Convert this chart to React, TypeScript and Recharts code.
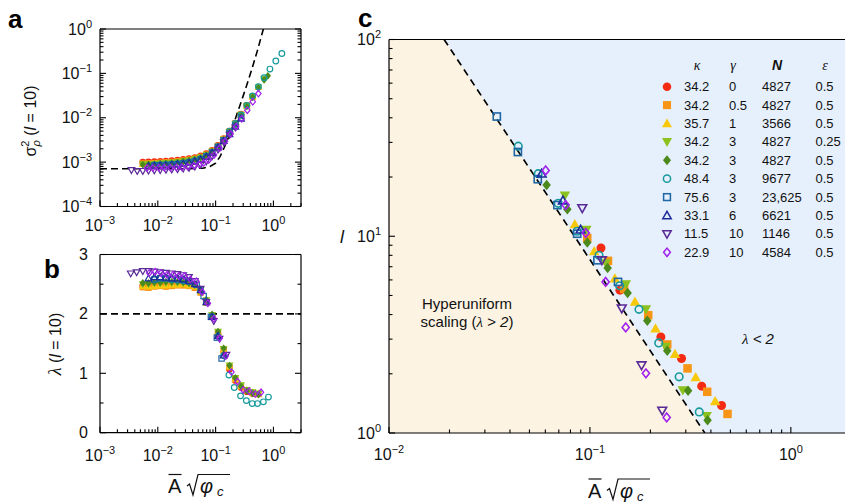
import React from "react";
import { Area, ComposedChart, Line, ReferenceLine, Scatter, XAxis, YAxis } from "recharts";

const W = 845;
const H = 502;
const SANS = "'Liberation Sans', Arial, Helvetica, sans-serif";
const SERIF = "'Liberation Serif', 'DejaVu Serif', serif";

type Pt = [number, number];

// ---- legend table (panel c) ----
const kappa = ["34.2", "34.2", "35.7", "34.2", "34.2", "48.4", "75.6", "33.1", "11.5", "22.9"];
const gamma = ["0", "0.5", "1", "3", "3", "3", "3", "6", "10", "10"];
const nValues = ["4827", "4827", "3566", "4827", "4827", "9677", "23,625", "6621", "1146", "4584"];
const epsilon = ["0.5", "0.5", "0.5", "0.25", "0.5", "0.5", "0.5", "0.5", "0.5", "0.5"];

type Kind = "circle" | "square" | "up" | "down" | "diamond";
const markerKind: Kind[] = ["circle", "square", "up", "down", "diamond", "circle", "square", "up", "down", "diamond"];
const markerColor = ["#f42a12", "#f99516", "#f7c80d", "#8cc21f", "#4b8a1b", "#169a9c", "#1f66a4", "#1b2c99", "#5a2a96", "#a020ee"];
const markerFilled = [true, true, true, true, true, false, false, false, false, false];

// ---- panel a: sigma^2 (l = 10) vs A sqrt(phi_c) ----
const sigmaRed: Pt[] = [[0.0055, 1.0e-3], [0.0069, 1.01e-3], [0.0087, 1.02e-3], [0.011, 1.04e-3], [0.0138, 1.06e-3], [0.0174, 1.08e-3], [0.0219, 1.11e-3], [0.0275, 1.15e-3], [0.0347, 1.2e-3], [0.0437, 1.27e-3], [0.055, 1.38e-3], [0.069, 1.55e-3], [0.087, 1.85e-3], [0.11, 2.4e-3], [0.138, 3.4e-3], [0.174, 5.0e-3], [0.219, 7.6e-3], [0.275, 0.012], [0.347, 0.019]];
const sigmaOrange: Pt[] = [[0.0055, 9.3e-4], [0.0069, 9.4e-4], [0.0087, 9.5e-4], [0.011, 9.7e-4], [0.0138, 9.9e-4], [0.0174, 1.01e-3], [0.0219, 1.04e-3], [0.0275, 1.08e-3], [0.0347, 1.13e-3], [0.0437, 1.2e-3], [0.055, 1.31e-3], [0.069, 1.48e-3], [0.087, 1.78e-3], [0.11, 2.3e-3], [0.138, 3.3e-3], [0.174, 4.9e-3], [0.219, 7.4e-3], [0.275, 0.0118], [0.347, 0.0188], [0.437, 0.03]];
const sigmaYellow: Pt[] = [[0.0055, 9.1e-4], [0.0069, 9.2e-4], [0.0087, 9.3e-4], [0.011, 9.5e-4], [0.0138, 9.7e-4], [0.0174, 9.9e-4], [0.0219, 1.02e-3], [0.0275, 1.06e-3], [0.0347, 1.11e-3], [0.0437, 1.18e-3], [0.055, 1.29e-3], [0.069, 1.46e-3], [0.087, 1.76e-3], [0.11, 2.3e-3], [0.138, 3.3e-3], [0.174, 4.8e-3], [0.219, 7.3e-3], [0.275, 0.0116], [0.347, 0.0185], [0.437, 0.03], [0.55, 0.049]];
const sigmaLime: Pt[] = [[0.0055, 8.9e-4], [0.0069, 9.0e-4], [0.0087, 9.1e-4], [0.011, 9.3e-4], [0.0138, 9.5e-4], [0.0174, 9.7e-4], [0.0219, 1.0e-3], [0.0275, 1.04e-3], [0.0347, 1.09e-3], [0.0437, 1.16e-3], [0.055, 1.27e-3], [0.069, 1.44e-3], [0.087, 1.74e-3], [0.11, 2.25e-3], [0.138, 3.2e-3], [0.174, 4.7e-3], [0.219, 7.2e-3], [0.275, 0.0115], [0.347, 0.0183], [0.437, 0.0295], [0.55, 0.048], [0.69, 0.074]];
const sigmaGreen: Pt[] = [[0.0055, 8.8e-4], [0.0069, 8.9e-4], [0.0087, 9.0e-4], [0.011, 9.2e-4], [0.0138, 9.4e-4], [0.0174, 9.6e-4], [0.0219, 9.9e-4], [0.0275, 1.03e-3], [0.0347, 1.08e-3], [0.0437, 1.15e-3], [0.055, 1.26e-3], [0.069, 1.43e-3], [0.087, 1.72e-3], [0.11, 2.2e-3], [0.138, 3.2e-3], [0.174, 4.7e-3], [0.219, 7.1e-3], [0.275, 0.0114], [0.347, 0.018], [0.437, 0.029], [0.55, 0.047], [0.69, 0.072], [0.8, 0.088]];
const sigmaTeal: Pt[] = [[0.0087, 8.6e-4], [0.011, 8.7e-4], [0.0138, 8.8e-4], [0.0174, 9.0e-4], [0.0219, 9.2e-4], [0.0275, 9.5e-4], [0.0347, 1.0e-3], [0.0437, 1.07e-3], [0.055, 1.18e-3], [0.069, 1.36e-3], [0.087, 1.65e-3], [0.11, 2.2e-3], [0.138, 3.1e-3], [0.174, 5.0e-3], [0.219, 7.4e-3], [0.275, 0.0115], [0.347, 0.019], [0.437, 0.031], [0.55, 0.05], [0.69, 0.08], [0.87, 0.125], [1.1, 0.19], [1.4, 0.28]];
const sigmaBlue: Pt[] = [[0.0087, 8.4e-4], [0.011, 8.5e-4], [0.0138, 8.6e-4], [0.0174, 8.8e-4], [0.0219, 9.0e-4], [0.0275, 9.3e-4], [0.0347, 9.8e-4], [0.0437, 1.05e-3], [0.055, 1.16e-3], [0.069, 1.34e-3], [0.087, 1.65e-3], [0.11, 2.2e-3], [0.138, 3.1e-3], [0.174, 4.5e-3], [0.219, 6.6e-3], [0.275, 0.01]];
const sigmaNavy: Pt[] = [[0.0069, 8.2e-4], [0.0087, 8.3e-4], [0.011, 8.4e-4], [0.0138, 8.5e-4], [0.0174, 8.7e-4], [0.0219, 8.9e-4], [0.0275, 9.2e-4], [0.0347, 9.7e-4], [0.0437, 1.04e-3], [0.055, 1.15e-3], [0.069, 1.32e-3], [0.087, 1.62e-3], [0.11, 2.15e-3], [0.138, 3.0e-3], [0.174, 4.3e-3], [0.219, 6.3e-3], [0.275, 9.5e-3]];
const sigmaPurple: Pt[] = [[0.0035, 6.6e-4], [0.0044, 6.3e-4], [0.0055, 6.3e-4], [0.0069, 6.4e-4], [0.0087, 6.5e-4], [0.011, 6.6e-4], [0.0138, 6.7e-4], [0.0174, 6.8e-4], [0.0219, 6.9e-4], [0.0275, 7.1e-4], [0.0347, 7.4e-4], [0.0437, 7.9e-4], [0.055, 8.7e-4], [0.069, 1.02e-3], [0.087, 1.35e-3], [0.11, 1.9e-3], [0.138, 2.8e-3], [0.174, 4.1e-3], [0.219, 6.0e-3]];
const sigmaViolet: Pt[] = [[0.0065, 7.4e-4], [0.0082, 7.4e-4], [0.0104, 7.5e-4], [0.013, 7.5e-4], [0.0165, 7.5e-4], [0.021, 7.6e-4], [0.026, 7.7e-4], [0.033, 7.9e-4], [0.042, 8.3e-4], [0.052, 8.8e-4], [0.062, 9.5e-4], [0.076, 1.12e-3], [0.094, 1.45e-3], [0.117, 2.05e-3], [0.146, 2.95e-3], [0.182, 4.3e-3], [0.227, 6.3e-3], [0.283, 9.5e-3], [0.353, 0.0148], [0.44, 0.023], [0.55, 0.035]];
const sigmaFit: Pt[] = [[0.001, 7.1e-4], [0.03, 7.1e-4], [0.06, 7.3e-4], [0.08, 8.0e-4], [0.1, 9.5e-4], [0.12, 1.35e-3], [0.14, 2.1e-3], [0.17, 3.8e-3], [0.21, 8.0e-3], [0.26, 0.018], [0.33, 0.045], [0.42, 0.12], [0.53, 0.33], [0.67, 1.0]];

// ---- panel b: lambda (l = 10) ----
const lambdaRed: Pt[] = [[0.0055, 2.47], [0.0069, 2.46], [0.0087, 2.48], [0.011, 2.49], [0.0138, 2.47], [0.0174, 2.48], [0.0219, 2.5], [0.0275, 2.49], [0.0347, 2.48], [0.0437, 2.45], [0.055, 2.37], [0.069, 2.2], [0.087, 1.96], [0.11, 1.66], [0.138, 1.36], [0.174, 1.07], [0.219, 0.88], [0.275, 0.76], [0.347, 0.69], [0.437, 0.66]];
const lambdaOrange: Pt[] = [[0.0055, 2.45], [0.0069, 2.44], [0.0087, 2.46], [0.011, 2.47], [0.0138, 2.46], [0.0174, 2.47], [0.0219, 2.48], [0.0275, 2.48], [0.0347, 2.47], [0.0437, 2.44], [0.055, 2.36], [0.069, 2.19], [0.087, 1.95], [0.11, 1.67], [0.138, 1.39], [0.174, 1.1], [0.219, 0.9], [0.275, 0.78], [0.347, 0.71], [0.437, 0.67], [0.55, 0.65]];
const lambdaYellow: Pt[] = [[0.0055, 2.47], [0.0069, 2.46], [0.0087, 2.47], [0.011, 2.48], [0.0138, 2.48], [0.0174, 2.49], [0.0219, 2.49], [0.0275, 2.5], [0.0347, 2.48], [0.0437, 2.46], [0.055, 2.38], [0.069, 2.21], [0.087, 1.97], [0.11, 1.69], [0.138, 1.4], [0.174, 1.12], [0.219, 0.91], [0.275, 0.79], [0.347, 0.72], [0.437, 0.68], [0.55, 0.66]];
const lambdaLime: Pt[] = [[0.0055, 2.5], [0.0069, 2.5], [0.0087, 2.51], [0.011, 2.51], [0.0138, 2.52], [0.0174, 2.52], [0.0219, 2.52], [0.0275, 2.52], [0.0347, 2.51], [0.0437, 2.48], [0.055, 2.4], [0.069, 2.23], [0.087, 1.98], [0.11, 1.7], [0.138, 1.41], [0.174, 1.13], [0.219, 0.92], [0.275, 0.8], [0.347, 0.72], [0.437, 0.68], [0.55, 0.66]];
const lambdaGreen: Pt[] = [[0.0055, 2.52], [0.0069, 2.52], [0.0087, 2.53], [0.011, 2.53], [0.0138, 2.54], [0.0174, 2.54], [0.0219, 2.54], [0.0275, 2.53], [0.0347, 2.52], [0.0437, 2.49], [0.055, 2.41], [0.069, 2.24], [0.087, 1.99], [0.11, 1.7], [0.138, 1.42], [0.174, 1.13], [0.219, 0.92], [0.275, 0.78], [0.347, 0.7], [0.437, 0.66], [0.55, 0.64]];
const lambdaTeal: Pt[] = [[0.0087, 2.58], [0.011, 2.6], [0.0138, 2.6], [0.0174, 2.58], [0.0219, 2.57], [0.0275, 2.56], [0.0347, 2.55], [0.0437, 2.5], [0.055, 2.4], [0.069, 2.2], [0.087, 1.95], [0.11, 1.62], [0.138, 1.3], [0.17, 0.97], [0.21, 0.76], [0.27, 0.62], [0.34, 0.54], [0.43, 0.49], [0.53, 0.49], [0.67, 0.52], [0.82, 0.6]];
const lambdaBlue: Pt[] = [[0.0087, 2.58], [0.011, 2.6], [0.0138, 2.6], [0.0174, 2.59], [0.0219, 2.58], [0.0275, 2.57], [0.0347, 2.55], [0.047, 2.49], [0.062, 2.3], [0.083, 1.95], [0.105, 1.6], [0.127, 1.25]];
const lambdaNavy: Pt[] = [[0.0069, 2.6], [0.0087, 2.62], [0.011, 2.62], [0.0138, 2.61], [0.0174, 2.6], [0.0219, 2.6], [0.0275, 2.58], [0.0347, 2.55], [0.0437, 2.5], [0.055, 2.4], [0.069, 2.2], [0.087, 1.95], [0.11, 1.63], [0.138, 1.3]];
const lambdaPurple: Pt[] = [[0.0034, 2.68], [0.0043, 2.7], [0.0055, 2.72], [0.0069, 2.72], [0.0087, 2.71], [0.011, 2.7], [0.0138, 2.69], [0.0174, 2.68], [0.0219, 2.67], [0.0275, 2.65], [0.0347, 2.62], [0.0437, 2.55], [0.055, 2.42], [0.069, 2.2], [0.093, 1.88], [0.117, 1.58], [0.154, 1.31]];
const lambdaViolet: Pt[] = [[0.0071, 2.69], [0.009, 2.71], [0.0114, 2.69], [0.0144, 2.66], [0.0183, 2.66], [0.023, 2.64], [0.029, 2.64], [0.0366, 2.58], [0.0467, 2.55], [0.0586, 2.37], [0.0735, 2.18], [0.0934, 1.92], [0.1175, 1.59], [0.1496, 1.29], [0.188, 1.02], [0.239, 0.86], [0.3, 0.72], [0.38, 0.7], [0.485, 0.65], [0.61, 0.68]];
const lambdaCritical = 2;

// ---- panel c: l vs A sqrt(phi_c) at lambda = 2 ----
const lRed: Pt[] = [[0.1135, 8.72], [0.141, 5.32], [0.2255, 3.08], [0.2857, 2.39], [0.36, 1.73], [0.452, 1.38]];
const lOrange: Pt[] = [[0.097, 9.8], [0.123, 7.5], [0.148, 5.4], [0.195, 3.97], [0.2426, 2.82], [0.306, 2.13], [0.3835, 1.62], [0.484, 1.25]];
const lYellow: Pt[] = [[0.0841, 11.5], [0.105, 8.4], [0.133, 6.1], [0.1675, 4.64], [0.212, 3.4], [0.265, 2.52], [0.336, 1.92], [0.42, 1.45]];
const lLime: Pt[] = [[0.0751, 16.1], [0.096, 10.8], [0.12, 7.3], [0.151, 5.7], [0.19, 4.25], [0.238, 2.74], [0.29, 1.65], [0.381, 1.22]];
const lGreen: Pt[] = [[0.0609, 18.2], [0.0772, 13.7], [0.097, 9.3], [0.1225, 6.9], [0.154, 5.14], [0.193, 3.72], [0.2426, 2.62], [0.308, 1.64], [0.385, 1.16]];
const lTeal: Pt[] = [[0.044, 28.7], [0.0553, 20.8], [0.0695, 14.7], [0.0864, 10.6], [0.111, 8.0], [0.1405, 5.6], [0.1754, 4.25], [0.22, 2.87], [0.278, 1.93], [0.35, 1.28]];
const lBlue: Pt[] = [[0.0344, 40.6], [0.0438, 26.8], [0.055, 19.5], [0.0689, 14.4], [0.0864, 10.3], [0.109, 7.55], [0.138, 5.86]];
const lNavy: Pt[] = [[0.0575, 20.8], [0.0734, 15.2], [0.0898, 10.8]];
const lPurple: Pt[] = [[0.0916, 13.9], [0.1147, 7.55], [0.144, 4.3], [0.1807, 2.21], [0.229, 1.3]];
const lViolet: Pt[] = [[0.0602, 21.6], [0.0757, 14.4], [0.0953, 10.4], [0.1197, 5.86], [0.1507, 3.44], [0.19, 2.01], [0.241, 1.2]];
const lBoundary: Pt[] = [[0.0188, 100], [0.373, 1]];
const regionAll: Pt[] = [[0.01, 100], [1.86, 100]];
const regionHyper: Pt[] = [[0.01, 100], [0.0188, 100], [0.373, 1]];

const sigmaSeries = [sigmaRed, sigmaOrange, sigmaYellow, sigmaLime, sigmaGreen, sigmaTeal, sigmaBlue, sigmaNavy, sigmaPurple, sigmaViolet];
const lambdaSeries = [lambdaRed, lambdaOrange, lambdaYellow, lambdaLime, lambdaGreen, lambdaTeal, lambdaBlue, lambdaNavy, lambdaPurple, lambdaViolet];
const lSeries = [lRed, lOrange, lYellow, lLime, lGreen, lTeal, lBlue, lNavy, lPurple, lViolet];

// axes
const abXDomain = [0.001, 3];
const sigmaDomain = [1e-4, 1];
const lambdaDomain = [0, 3];
const cXDomain = [0.01, 1.86];
const cYDomain = [1, 100];
const abDecades = [0.001, 0.01, 0.1, 1];
const sigmaDecades = [1e-4, 1e-3, 1e-2, 1e-1, 1];
const lambdaTicks = [0, 0.5, 1, 1.5, 2, 2.5, 3];
const cXDecades = [0.01, 0.1, 1];
const cYDecades = [1, 10, 100];

const BLUE_BG = "#e6f0fc";
const BEIGE_BG = "#fdf3e2";

function withMinor(decades: number[], lo: number, hi: number) {
  const out: number[] = [];
  decades.forEach((d) => {
    for (let m = 1; m <= 9; m++) {
      const v = +(d * m).toPrecision(6);
      if (v >= lo * 0.999999 && v <= hi * 1.000001) out.push(v);
    }
  });
  return out;
}

const abXTicks = withMinor(abDecades, abXDomain[0], abXDomain[1]);
const sigmaTicks = withMinor(sigmaDecades, sigmaDomain[0], sigmaDomain[1]);
const cXTicks = withMinor(cXDecades, cXDomain[0], cXDomain[1]);
const cYTicks = withMinor(cYDecades, cYDomain[0], cYDomain[1]);

const toXY = (a: Pt[]) => a.map(([x, y]) => ({ x, y }));

const isDecade = (v: number) => Math.abs(Math.log10(v) - Math.round(Math.log10(v))) < 1e-6;
const expText = (v: number) => {
  const e = Math.round(Math.log10(v));
  return e < 0 ? `\u2212${-e}` : `${e}`;
};

function Marker({ cx, cy, idx, size }: { cx: number; cy: number; idx: number; size: number }) {
  if (cx == null || cy == null || isNaN(cx) || isNaN(cy)) return null;
  const color = markerColor[idx];
  const filled = markerFilled[idx];
  const sw = filled ? 0 : Math.max(1.2, size * 0.16);
  const r = filled ? size / 2 : size / 2 - sw / 2;
  const st = { fill: filled ? color : "none", stroke: filled ? "none" : color, strokeWidth: sw };
  switch (markerKind[idx]) {
    case "circle":
      return <circle cx={cx} cy={cy} r={r * 0.9} {...st} />;
    case "square": {
      const s = r * 0.85;
      return <rect x={cx - s} y={cy - s} width={2 * s} height={2 * s} {...st} />;
    }
    case "up":
      return <polygon points={`${cx},${cy - r * 1.05} ${cx + r * 1.05},${cy + r * 0.8} ${cx - r * 1.05},${cy + r * 0.8}`} {...st} />;
    case "down":
      return <polygon points={`${cx},${cy + r * 1.05} ${cx + r * 1.05},${cy - r * 0.8} ${cx - r * 1.05},${cy - r * 0.8}`} {...st} />;
    default:
      return <polygon points={`${cx},${cy - r * 1.05} ${cx + r * 0.85},${cy} ${cx},${cy + r * 1.05} ${cx - r * 0.85},${cy}`} {...st} />;
  }
}

function AxisTick(props: any) {
  const { x, y, payload, side, log, showLabel, gap } = props;
  const v = Number(payload.value);
  const major = log ? isDecade(v) : Number.isInteger(v);
  const len = major ? 6 : 3.5;
  const d = side === "bottom" ? [0, -1] : side === "top" ? [0, 1] : side === "left" ? [1, 0] : [-1, 0];
  const content = log ? (
    <>
      10
      <tspan dy={-7} fontSize={11}>
        {expText(v)}
      </tspan>
    </>
  ) : (
    String(v)
  );
  return (
    <g>
      <line x1={x} y1={y} x2={x + d[0] * len} y2={y + d[1] * len} stroke="#000" strokeWidth={1.1} />
      {showLabel && major && side === "bottom" && (
        <text x={x} y={y + gap} textAnchor="middle" fontFamily={SANS} fontSize={16} fill="#111">
          {content}
        </text>
      )}
      {showLabel && major && side === "left" && (
        <text x={x - gap} y={y + 5.5} textAnchor="end" fontFamily={SANS} fontSize={16} fill="#111">
          {content}
        </text>
      )}
    </g>
  );
}

const tickOf = (side: string, log: boolean, showLabel: boolean, gap = 0) => (p: any) => (
  <AxisTick {...p} side={side} log={log} showLabel={showLabel} gap={gap} />
);

const axisLine = { stroke: "#000", strokeWidth: 1.2 };
const layer: React.CSSProperties = { position: "absolute", left: 0, top: 0 };

// axes are 1px thick, so margins are 1px smaller than the plot edges
function PanelA() {
  return (
    <ComposedChart width={W} height={H} margin={{ top: 28, right: 543, bottom: 294.5, left: 99 }}>
      <XAxis dataKey="x" type="number" scale="log" domain={abXDomain} allowDataOverflow ticks={abXTicks} interval={0}
        height={1} tickSize={0} tickMargin={0} tickLine={false} axisLine={axisLine} tick={tickOf("bottom", true, true, 24)} />
      <XAxis xAxisId="top" orientation="top" type="number" scale="log" domain={abXDomain} allowDataOverflow ticks={abXTicks}
        interval={0} height={1} tickSize={0} tickMargin={0} tickLine={false} axisLine={axisLine} tick={tickOf("top", true, false)} />
      <YAxis dataKey="y" type="number" scale="log" domain={sigmaDomain} allowDataOverflow ticks={sigmaTicks} interval={0}
        width={1} tickSize={0} tickMargin={0} tickLine={false} axisLine={axisLine} tick={tickOf("left", true, true, 8)} />
      <YAxis yAxisId="right" orientation="right" type="number" scale="log" domain={sigmaDomain} allowDataOverflow ticks={sigmaTicks}
        interval={0} width={1} tickSize={0} tickMargin={0} tickLine={false} axisLine={axisLine} tick={tickOf("right", true, false)} />
      {sigmaSeries.map((s, i) => (
        <Scatter key={i} data={toXY(s)} isAnimationActive={false}
          shape={(p: any) => <Marker cx={p.cx} cy={p.cy} idx={i} size={7.5} />} />
      ))}
      <Line data={toXY(sigmaFit)} dataKey="y" type="linear" stroke="#000" strokeWidth={1.6} strokeDasharray="7 4"
        dot={false} activeDot={false} isAnimationActive={false} />
    </ComposedChart>
  );
}

function PanelB() {
  return (
    <ComposedChart width={W} height={H} margin={{ top: 253.5, right: 543, bottom: 68.3, left: 99 }}>
      <XAxis dataKey="x" type="number" scale="log" domain={abXDomain} allowDataOverflow ticks={abXTicks} interval={0}
        height={1} tickSize={0} tickMargin={0} tickLine={false} axisLine={axisLine} tick={tickOf("bottom", true, true, 28)} />
      <XAxis xAxisId="top" orientation="top" type="number" scale="log" domain={abXDomain} allowDataOverflow ticks={abXTicks}
        interval={0} height={1} tickSize={0} tickMargin={0} tickLine={false} axisLine={axisLine} tick={tickOf("top", true, false)} />
      <YAxis dataKey="y" type="number" domain={lambdaDomain} allowDataOverflow ticks={lambdaTicks} interval={0}
        width={1} tickSize={0} tickMargin={0} tickLine={false} axisLine={axisLine} tick={tickOf("left", false, true, 12)} />
      <YAxis yAxisId="right" orientation="right" type="number" domain={lambdaDomain} allowDataOverflow ticks={lambdaTicks}
        interval={0} width={1} tickSize={0} tickMargin={0} tickLine={false} axisLine={axisLine} tick={tickOf("right", false, false)} />
      <ReferenceLine y={lambdaCritical} stroke="#000" strokeWidth={1.6} strokeDasharray="7 4" />
      {lambdaSeries.map((s, i) => (
        <Scatter key={i} data={toXY(s)} isAnimationActive={false}
          shape={(p: any) => <Marker cx={p.cx} cy={p.cy} idx={i} size={7.5} />} />
      ))}
    </ComposedChart>
  );
}

const cBgMargin = { top: 39.5, right: 0, bottom: 69, left: 389 };
const cMargin = { top: 38.5, right: 0, bottom: 68, left: 388 };

function PanelCBackground() {
  return (
    <ComposedChart width={W} height={H} margin={cBgMargin}>
      <XAxis dataKey="x" type="number" scale="log" domain={cXDomain} allowDataOverflow hide />
      <YAxis dataKey="y" type="number" scale="log" domain={cYDomain} allowDataOverflow hide />
      <Area data={toXY(regionAll)} dataKey="y" type="linear" baseValue={1} fill={BLUE_BG} fillOpacity={1} stroke="none"
        dot={false} activeDot={false} isAnimationActive={false} />
      <Area data={toXY(regionHyper)} dataKey="y" type="linear" baseValue={1} fill={BEIGE_BG} fillOpacity={1} stroke="none"
        dot={false} activeDot={false} isAnimationActive={false} />
    </ComposedChart>
  );
}

function PanelC() {
  return (
    <ComposedChart width={W} height={H} margin={cMargin}>
      <XAxis dataKey="x" type="number" scale="log" domain={cXDomain} allowDataOverflow ticks={cXTicks} interval={0}
        height={1} tickSize={0} tickMargin={0} tickLine={false} axisLine={axisLine} tick={tickOf("bottom", true, true, 27)} />
      <XAxis xAxisId="top" orientation="top" type="number" scale="log" domain={cXDomain} allowDataOverflow ticks={cXTicks}
        interval={0} height={1} tickSize={0} tickMargin={0} tickLine={false} axisLine={axisLine} tick={tickOf("top", true, false)} />
      <YAxis dataKey="y" type="number" scale="log" domain={cYDomain} allowDataOverflow ticks={cYTicks} interval={0}
        width={1} tickSize={0} tickMargin={0} tickLine={false} axisLine={axisLine} tick={tickOf("left", true, true, 8)} />
      <Line data={toXY(lBoundary)} dataKey="y" type="linear" stroke="#000" strokeWidth={1.7} strokeDasharray="7 5"
        dot={false} activeDot={false} isAnimationActive={false} />
      {lSeries.map((s, i) => (
        <Scatter key={i} data={toXY(s)} isAnimationActive={false}
          shape={(p: any) => <Marker cx={p.cx} cy={p.cy} idx={i} size={10} />} />
      ))}
    </ComposedChart>
  );
}

function XTitle({ x0, base }: { x0: number; base: number }) {
  return (
    <g fontFamily={SANS} fill="#111">
      <text x={x0} y={base} fontSize={20}>A</text>
      <line x1={x0 + 0.5} y1={base - 18.5} x2={x0 + 13.5} y2={base - 18.5} stroke="#111" strokeWidth={1.2} />
      <path
        d={`M${x0 + 19},${base - 7} L${x0 + 21.5},${base - 9} L${x0 + 25},${base + 2} L${x0 + 30},${base - 18.5} L${x0 + 62},${base - 18.5}`}
        fill="none" stroke="#111" strokeWidth={1.2}
      />
      <text x={x0 + 32} y={base} fontSize={20} fontStyle="italic">φ</text>
      <text x={x0 + 49} y={base + 3} fontSize={13} fontStyle="italic">c</text>
    </g>
  );
}

function Overlay() {
  const rowTop = 86.7;
  const rowStep = 18.4;
  return (
    <svg width={W} height={H} style={{ ...layer, pointerEvents: "none" }}>
      <g fontFamily={SANS} fontWeight="bold" fontSize={26} fill="#000">
        <text x={8} y={28}>a</text>
        <text x={44} y={278}>b</text>
        <text x={358} y={27}>c</text>
      </g>
      <text transform="translate(36,121) rotate(-90)" textAnchor="middle" fontFamily={SANS} fontSize={16} fill="#111">
        σ
        <tspan dy={-7} fontSize={11}>2</tspan>
        <tspan dx={-6} dy={11} fontSize={11} fontStyle="italic">ρ</tspan>
        <tspan dy={-4}>{" ("}</tspan>
        <tspan fontStyle="italic">l</tspan>
        <tspan>{" = 10)"}</tspan>
      </text>
      <text transform="translate(61,344) rotate(-90)" textAnchor="middle" fontFamily={SANS} fontSize={16} fill="#111">
        <tspan fontFamily={SERIF} fontStyle="italic" fontSize={18}>λ</tspan>
        <tspan>{" ("}</tspan>
        <tspan fontStyle="italic">l</tspan>
        <tspan>{" = 10)"}</tspan>
      </text>
      <text x={340} y={243} fontFamily={SANS} fontSize={18} fontStyle="italic" fill="#111">l</text>
      <XTitle x0={168} base={493} />
      <XTitle x0={588} base={497.5} />
      <g fontFamily={SANS} fontSize={15} fill="#111" textAnchor="middle">
        <text x={467} y={308.5}>Hyperuniform</text>
        <text x={467} y={327}>
          scaling (<tspan fontFamily={SERIF} fontStyle="italic">λ</tspan> {">"} <tspan fontStyle="italic">2</tspan>)
        </text>
        <text x={758} y={343.5} fontStyle="italic">
          <tspan fontFamily={SERIF}>λ</tspan> {"<"} 2
        </text>
      </g>
      <g fontSize={14} fill="#111" textAnchor="middle">
        <text x={697} y={70} fontFamily={SERIF} fontStyle="italic">κ</text>
        <text x={733} y={70} fontFamily={SERIF} fontStyle="italic">γ</text>
        <text x={777} y={70} fontFamily={SANS} fontWeight="bold" fontStyle="italic">N</text>
        <text x={825} y={70} fontFamily={SERIF} fontStyle="italic">ε</text>
      </g>
      {kappa.map((k, i) => {
        const cy = rowTop + i * rowStep;
        return (
          <g key={i} fontFamily={SANS} fontSize={13} fill="#111">
            <Marker cx={667} cy={cy} idx={i} size={9.5} />
            <text x={684} y={cy + 4.5}>{k}</text>
            <text x={729} y={cy + 4.5}>{gamma[i]}</text>
            <text x={762} y={cy + 4.5}>{nValues[i]}</text>
            <text x={815.5} y={cy + 4.5}>{epsilon[i]}</text>
          </g>
        );
      })}
    </svg>
  );
}

export default function App() {
  return (
    <div style={{ position: "absolute", left: 0, top: 0, width: W, height: H, background: "#fff", overflow: "hidden" }}>
      <div style={layer}><PanelCBackground /></div>
      <div style={layer}><PanelA /></div>
      <div style={layer}><PanelB /></div>
      <div style={layer}><PanelC /></div>
      <Overlay />
    </div>
  );
}
